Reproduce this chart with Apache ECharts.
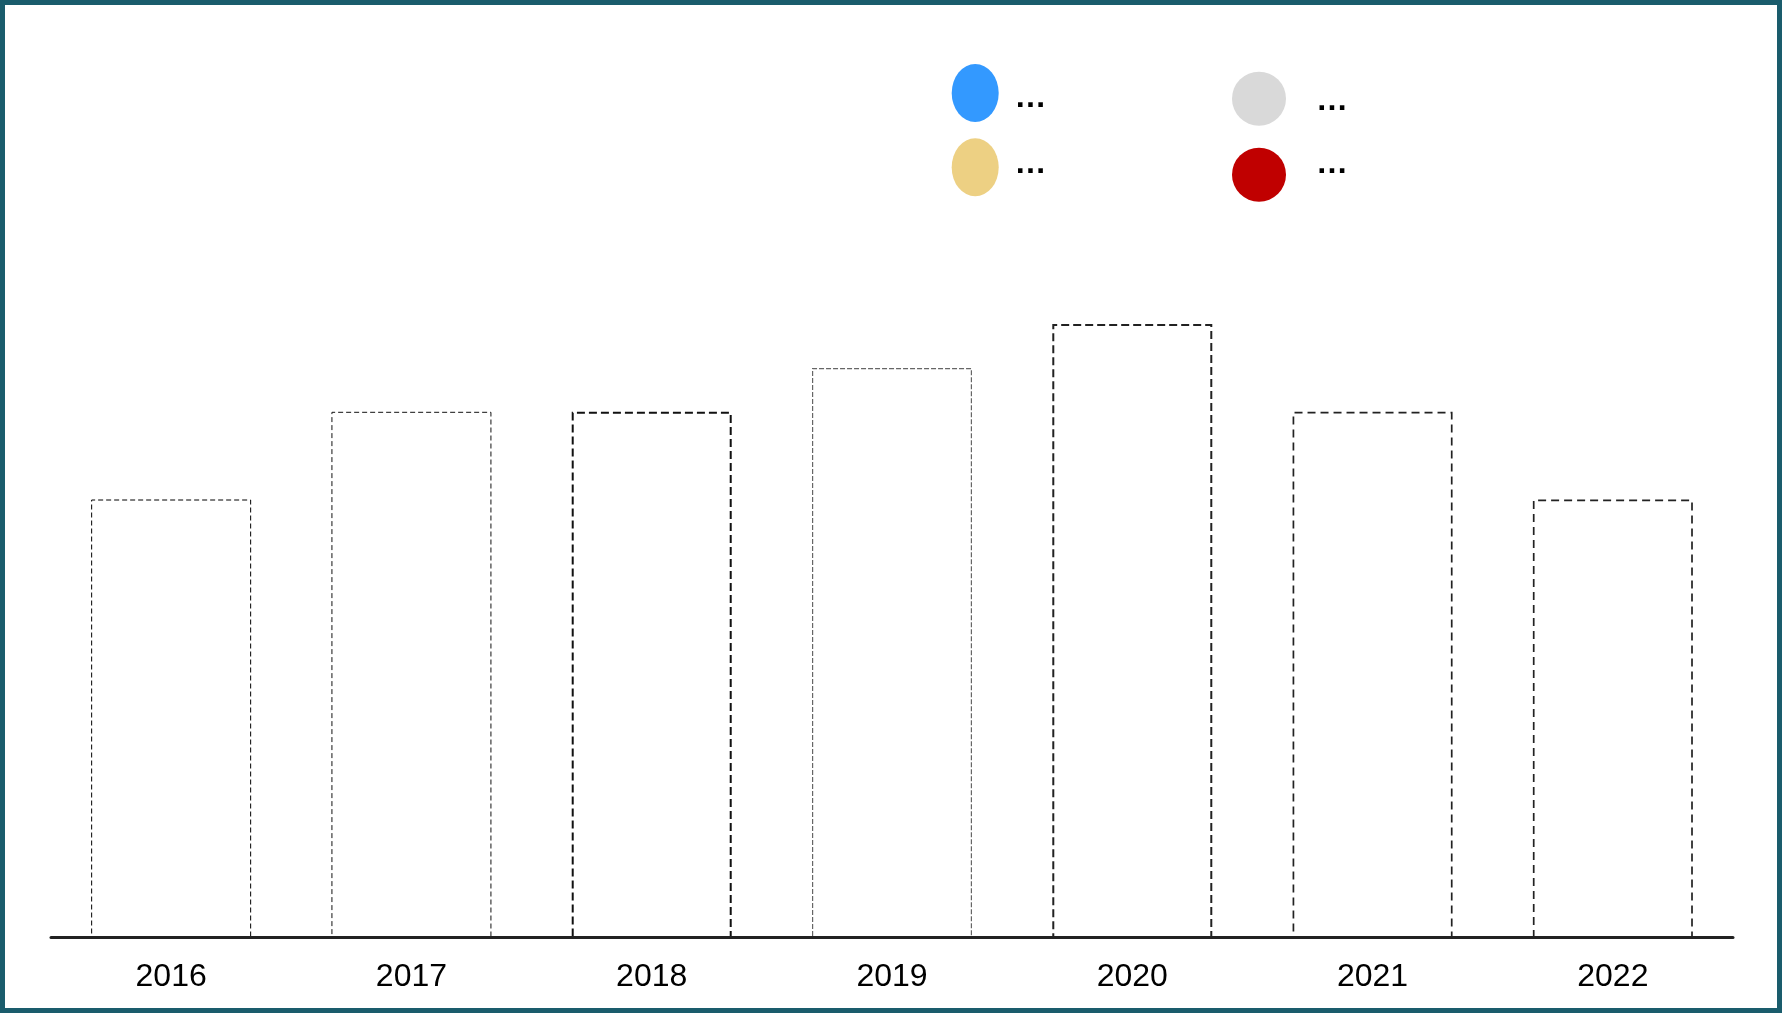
<!DOCTYPE html>
<html>
<head>
<meta charset="utf-8">
<script src="https://cdn.jsdelivr.net/npm/echarts@6/dist/echarts.min.js"></script>
<style>
html,body{margin:0;padding:0;background:#fff;}
#wrap{position:relative;width:1782px;height:1013px;}
#chart{position:absolute;left:0;top:0;width:1782px;height:1013px;}
#frame{position:absolute;left:0;top:0;width:1782px;height:1013px;box-sizing:border-box;border:5px solid #1a5c6c;pointer-events:none;}
</style>
</head>
<body>
<div id="wrap"><div id="chart"></div><div id="frame"></div></div>
<script>
// ---- data ----
const categories = ['2016', '2017', '2018', '2019', '2020', '2021', '2022'];
const values = [10, 12, 12, 13, 14, 12, 10];
const legendNames = ['A', 'B', 'C', 'D'];
const legendLabels = ['…', '…', '…', '…'];
const legendColors = ['#3399FF', '#EDD083', '#D9D9D9', '#C00000'];

// ---- styles (kept separate from data) ----
const barBorders = [
  { w: 1, c: '#000000', t: [5, 3] },
  { w: 1, c: '#111111', t: [5, 3] },
  { w: 2, c: '#111111', t: [8, 4] },
  { w: 1.2, c: '#666666', t: [5, 2] },
  { w: 2, c: '#222222', t: [8, 4] },
  { w: 1.7, c: '#222222', t: [8, 5] },
  { w: 1.7, c: '#222222', t: [8, 5] }
];

const barData = values.map((v, i) => ({
  value: v,
  itemStyle: {
    color: 'rgba(255,255,255,0)',
    borderColor: barBorders[i].c,
    borderWidth: barBorders[i].w,
    borderType: barBorders[i].t
  }
}));

const ellipse = 'path://M0,29A23.5,29 0 1,0 47,29A23.5,29 0 1,0 0,29Z';
const legendLayouts = [
  { left: 951.7, top: 64, icon: ellipse, w: 47, h: 58, tx: 1014.6, ty: 98.5 },
  { left: 951.7, top: 138.3, icon: ellipse, w: 47, h: 58, tx: 1014.6, ty: 164.5 },
  { left: 1232, top: 71.7, icon: 'circle', w: 54, h: 54, tx: 1316, ty: 101.5 },
  { left: 1232, top: 147.7, icon: 'circle', w: 54, h: 54, tx: 1316, ty: 164.5 }
];

const legends = legendNames.map((n, i) => ({
  data: [n],
  left: legendLayouts[i].left,
  top: legendLayouts[i].top,
  padding: 0,
  icon: legendLayouts[i].icon,
  itemWidth: legendLayouts[i].w,
  itemHeight: legendLayouts[i].h,
  selectedMode: false,
  formatter: () => '',
  textStyle: { fontSize: 32 }
}));

const legendTexts = legendLabels.map((t, i) => ({
  type: 'text',
  x: legendLayouts[i].tx,
  y: legendLayouts[i].ty,
  style: {
    text: t,
    fill: '#000',
    font: 'bold 32px "Liberation Sans", Arial, sans-serif',
    align: 'left',
    verticalAlign: 'middle'
  }
}));

const dummySeries = legendNames.map((n, i) => ({
  name: n,
  type: 'line',
  data: [],
  color: legendColors[i],
  itemStyle: { color: legendColors[i] }
}));

const chart = echarts.init(document.getElementById('chart'), null, { renderer: 'canvas' });
chart.setOption({
  animation: false,
  backgroundColor: '#fff',
  legend: legends,
  graphic: legendTexts,
  grid: { left: 51, right: 49, top: 61, bottom: 75, containLabel: false },
  xAxis: {
    type: 'category',
    data: categories,
    z: 10,
    offset: -1,
    axisTick: { show: false },
    axisLine: { onZero: false, lineStyle: { color: '#222', width: 3 } },
    axisLabel: {
      fontSize: 32,
      color: '#000',
      margin: 24,
      fontFamily: 'Liberation Sans, Arial, sans-serif'
    }
  },
  yAxis: { type: 'value', min: 0, max: 20, show: false, splitLine: { show: false } },
  series: [
    { name: 'bars', type: 'bar', barWidth: 160, data: barData, z: 2 }
  ].concat(dummySeries)
});
</script>
</body>
</html>
